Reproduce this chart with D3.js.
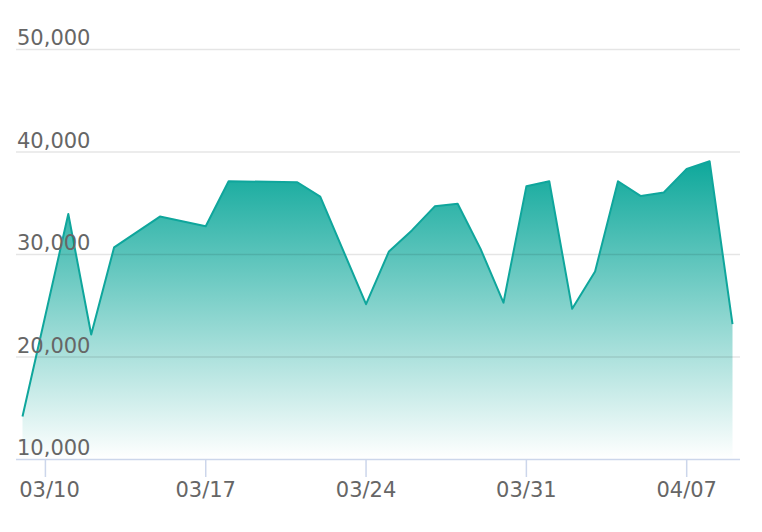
<!DOCTYPE html>
<html>
<head>
<meta charset="utf-8">
<script src="https://cdn.jsdelivr.net/npm/d3@7"></script>
<style>
  html, body { margin: 0; padding: 0; background: #fff; }
  svg { display: block; }
  text { font-family: "DejaVu Sans", sans-serif; }
</style>
</head>
<body>
<svg id="chart" width="762" height="532"></svg>
<script>
const dates = ["03/09","03/11","03/12","03/13","03/15","03/17","03/18","03/21","03/22","03/24",
               "03/25","03/26","03/27","03/28","03/29","03/30","03/31","04/01","04/02","04/03",
               "04/04","04/05","04/06","04/07","04/08","04/09"];
const values = [14150, 33900, 22150, 30650, 33650, 32700, 37100, 37000, 35600, 25100,
                30250, 32300, 34650, 34900, 30500, 25250, 36600, 37100, 24650, 28300,
                37100, 35650, 36000, 38300, 39050, 23150];
const yTicks = [10000, 20000, 30000, 40000, 50000];
const xTicks = ["03/10","03/17","03/24","03/31","04/07"];
const year = 2024;

const parse = s => { const [m, d] = s.split("/").map(Number); return new Date(Date.UTC(year, m - 1, d)); };
const data = dates.map((d, i) => ({ date: parse(d), value: values[i] }));

const svg = d3.select("#chart");
const x = d3.scaleUtc().domain([parse("03/09"), parse("04/09")]).range([22.5, 732.5]);
const y = d3.scaleLinear().domain([10000, 50000]).range([459, 49]);
const left = 16, right = 740;

const defs = svg.append("defs");
const grad = defs.append("linearGradient").attr("id", "fill")
  .attr("gradientUnits", "userSpaceOnUse")
  .attr("x1", 0).attr("x2", 0)
  .attr("y1", y(d3.max(values))).attr("y2", y(10000));
grad.append("stop").attr("offset", "0%").attr("stop-color", "#0ea89b").attr("stop-opacity", 1);
grad.append("stop").attr("offset", "100%").attr("stop-color", "#0ea89b").attr("stop-opacity", 0);

const area = d3.area().x(d => x(d.date)).y0(y(10000)).y1(d => y(d.value));
const line = d3.line().x(d => x(d.date)).y(d => y(d.value));

svg.append("path").datum(data).attr("d", area).attr("fill", "url(#fill)");

// gridlines (drawn over the area)
svg.append("g").selectAll("line").data(yTicks.filter(v => v !== 10000)).join("line")
  .attr("x1", left).attr("x2", right)
  .attr("y1", d => y(d) + 0.5).attr("y2", d => y(d) + 0.5)
  .attr("stroke", "rgba(0,0,0,0.1)").attr("stroke-width", 1.5);

svg.append("path").datum(data).attr("d", line)
  .attr("fill", "none").attr("stroke", "#0fa69c").attr("stroke-width", 2)
  .attr("stroke-linejoin", "round");

// y labels
svg.append("g").selectAll("text").data(yTicks).join("text")
  .attr("x", 17).attr("y", d => y(d) - 4)
  .attr("fill", "#666").attr("font-size", 21)
  .text(d => d3.format(",")(d));

// x axis
const xg = svg.append("g");
xg.append("line").attr("x1", left).attr("x2", right)
  .attr("y1", 459.5).attr("y2", 459.5).attr("stroke", "#ccd6eb").attr("stroke-width", 1.5);
xg.selectAll("line.tick").data(xTicks).join("line").attr("class", "tick")
  .attr("x1", d => x(parse(d))).attr("x2", d => x(parse(d)))
  .attr("y1", 459).attr("y2", 477).attr("stroke", "#ccd6eb").attr("stroke-width", 1.5);
xg.selectAll("text").data(xTicks).join("text")
  .attr("x", d => Math.max(x(parse(d)), 17 + 32.5))
  .attr("y", 497).attr("text-anchor", "middle")
  .attr("fill", "#666").attr("font-size", 21)
  .text(d => d);
</script>
</body>
</html>
